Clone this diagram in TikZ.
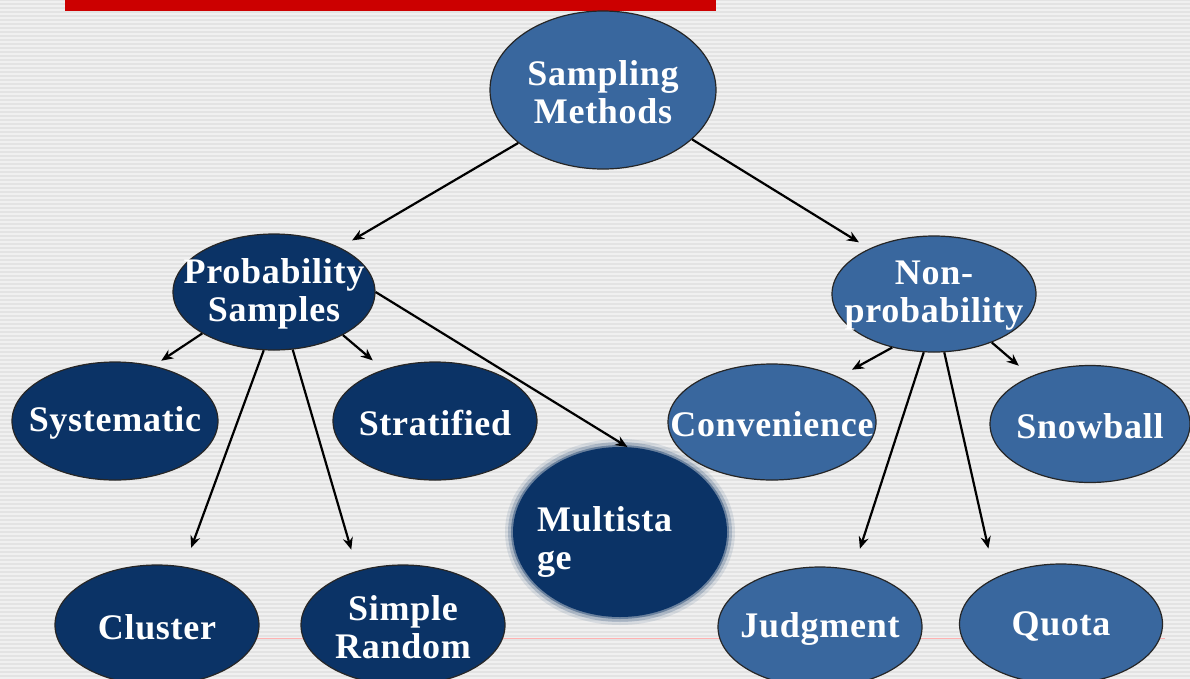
\documentclass[tikz,border=0pt]{standalone}
\usepackage{fontspec}
\setmainfont{Liberation Serif}[LetterSpace=2]
\usetikzlibrary{shapes.geometric, arrows.meta}
\definecolor{navyblue}{HTML}{0B3366}
\definecolor{midblue}{HTML}{39679E}
\definecolor{bgray}{HTML}{E3E3E3}
\definecolor{stripe}{HTML}{F0F0F0}
\definecolor{titlered}{HTML}{CC0000}
\tikzset{blob/.style={ellipse, draw=black!85, line width=1.2pt, inner sep=0pt},
	navyblob/.style={blob, fill=navyblue},
	blueblob/.style={blob, fill=midblue},
	txt/.style={text=white, align=center, inner sep=0pt, yshift=-2pt,
		font=\bfseries\fontsize{36}{38}\selectfont},
	arr/.style={-{Stealth[length=12pt,width=10pt]}, line width=2.2pt},
}

\begin{document}
\begin{tikzpicture}[x=1pt, y=-1pt]
		\path [use as bounding box] (0,0) rectangle (1190,678);
		\clip (0,0) rectangle (1190,678);
		% striped background
		\fill[bgray] (0,0) rectangle (1190,678);
		\foreach \y in {1,5,...,677}
			\fill[stripe] (0,\y) rectangle (1190,{\y+2});
		\fill[titlered] (65,0) rectangle (716,11);
		\draw[red!30, line width=1pt] (250,638) -- (1165,638);
		% top level
		\node[blueblob, minimum width=226pt, minimum height=158pt,
			label={[txt]center:Sampling\\Methods}] at (603,90) (SM) {};
		\node[navyblob, minimum width=202pt, minimum height=116pt,
			label={[txt]center:Probability\\Samples}] at (274,292) (PS) {};
		\node[blueblob, minimum width=204pt, minimum height=116pt,
			label={[txt]center:Non-\\probability}] at (934,294) (NP) {};
		% probability side
		\node[navyblob, minimum width=206pt, minimum height=118pt,
			label={[txt]center:Systematic}] at (115,421) (Sys) {};
		\node[navyblob, minimum width=204pt, minimum height=118pt,
			label={[txt]center:Stratified}] at (435,421) (Strat) {};
		\node[navyblob, minimum width=204pt, minimum height=120pt,
			label={[txt]center:Cluster}] at (157,625) (Clus) {};
		\node[navyblob, minimum width=204pt, minimum height=120pt,
			label={[txt]center:Simple\\Random}] at (403,625) (SR) {};
		\coordinate (mc) at (620,532);
		\foreach \r/\o in {8/0.1, 5/0.2, 2/0.4}
			\fill[navyblue, opacity=\o] (mc) ellipse ({107+\r} and {85+\r});
		\node[ellipse, fill=navyblue, inner sep=0pt, minimum width=214pt, minimum height=170pt,
			label={[txt, text width=166pt, align=left, yshift=-8pt]center:Multista\\ge}] at (mc) (Multi) {};
		% non-probability side
		\node[blueblob, minimum width=208pt, minimum height=116pt,
			label={[txt]center:Convenience}] at (772,422) (Conv) {};
		\node[blueblob, minimum width=200pt, minimum height=117pt,
			label={[txt]center:Snowball}] at (1090,424) (Snow) {};
		\node[blueblob, minimum width=204pt, minimum height=120pt,
			label={[txt]center:Judgment}] at (820,627) (Judg) {};
		\node[blueblob, minimum width=203pt, minimum height=120pt,
			label={[txt]center:Quota}] at (1061,624) (Quota) {};
		% arrows
		\draw[arr, shorten >=14pt] (SM.212) -- (PS.34);
		\draw[arr, shorten >=12pt] (SM.331) -- (NP.145);
		\draw[arr, shorten >=9pt] (PS.210) -- (Sys.55);
		\draw[arr, shorten >=14pt] (PS.328) -- (Strat.135);
		\draw[arr, shorten >=20pt] (PS.260) -- (Clus.65);
		\draw[arr, shorten >=22pt] (PS.288) -- (SR.130);
		\draw[arr] (PS.0) -- (Multi.85);
		\draw[arr, shorten >=15pt] (NP.232) -- (Conv.34);
		\draw[arr, shorten >=16pt] (NP.320) -- (Snow.141);
		\draw[arr, shorten >=22pt] (NP.260) -- (Judg.60);
		\draw[arr, shorten >=30pt] (NP.280) -- (Quota.145);
	\end{tikzpicture}
\end{document}
